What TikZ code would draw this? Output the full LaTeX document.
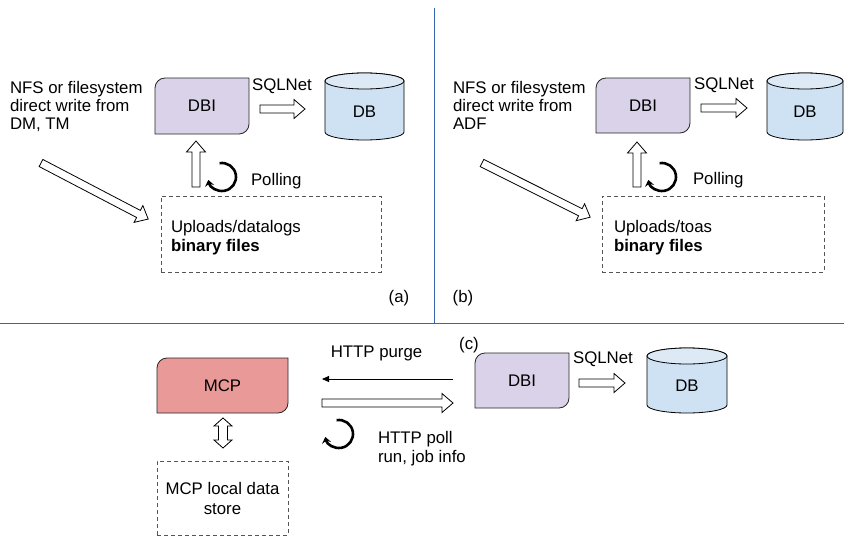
\documentclass[tikz,border=0pt]{standalone}
\usepackage{fontspec}
\setmainfont{Liberation Sans}
\usetikzlibrary{arrows.meta,backgrounds}
\definecolor{dbifill}{HTML}{D9D2E9}
\definecolor{dbbody}{HTML}{CFE2F3}
\definecolor{dbtop}{HTML}{DDEAF6}
\definecolor{mcpfill}{HTML}{EA9999}
\definecolor{divblue}{HTML}{3565AE}
\definecolor{dashgray}{HTML}{555555}
\newcommand\fsz{\fontsize{16.8}{18}\selectfont}
\tikzset{
  txt/.style={font=\fsz, inner sep=0pt, outer sep=0pt},
  shapebox/.style={draw=none, inner sep=0pt, outer sep=0pt, font=\fsz},
  dashbox/.style={draw=dashgray, dash pattern=on 4pt off 3pt, line width=0.8pt, inner sep=0pt, outer sep=0pt},
  divider/.style={draw=divblue, line width=1pt},
  circarr/.style={line width=2.6pt, -{Stealth[length=6pt,width=9pt]}},
  thinarr/.style={line width=0.9pt, -{Triangle[length=7pt,width=6pt]}},
  pics/blockarr/.style={code={\draw[fill=white, line width=0.8pt, line join=miter] (0,-4) -- (#1-11,-4) -- (#1-11,-9.5) -- (#1,0) -- (#1-11,9.5) -- (#1-11,4) -- (0,4) -- cycle;}},
  pics/dblarr/.style={code={\draw[fill=white, line width=0.8pt, line join=miter] (0,0) -- (8,-9) -- (8,-4.5) -- (#1-8,-4.5) -- (#1-8,-9) -- (#1,0) -- (#1-8,9) -- (#1-8,4.5) -- (8,4.5) -- (8,9) -- cycle;}}
}
\newcommand\dbishape[2]{%
  \begin{scope}[on background layer]
    \draw[fill=#2, line width=0.8pt, draw=black!85] (#1.south west) -- ([yshift=-10pt]#1.north west)
      arc[start angle=180, end angle=90, radius=10pt] -- (#1.north east)
      -- ([yshift=10pt]#1.south east) arc[start angle=0, end angle=-90, radius=10pt] -- cycle;
  \end{scope}}
\newcommand\cylshape[2]{%
  \begin{scope}[on background layer]
    \draw[fill=dbbody, line width=0.8pt] ([yshift=-8pt]#1.north west) -- ([yshift=8pt]#1.south west)
      arc[start angle=180, end angle=360, x radius=#2, y radius=8] -- ([yshift=-8pt]#1.north east)
      arc[start angle=0, end angle=180, x radius=#2, y radius=8] -- cycle;
    \draw[fill=dbtop, line width=0.8pt] ([yshift=-8pt]#1.north) ellipse[x radius=#2, y radius=8];
  \end{scope}}
\begin{document}
\begin{tikzpicture}[x=1pt,y=1pt]
\useasboundingbox (0,0) rectangle (844,-538);

% dividers
\coordinate (vtop) at (434,-8);
\coordinate (vbot) at (434,-323);
\coordinate (hl) at (0,-323);
\coordinate (hr) at (844,-323);
\draw[divider] (vtop) -- (vbot);
\draw[divider] (hl) -- (hr);

% ---------- panel (a)
\node[txt, anchor=north west, align=left] (nfsA) at (10,-81) {NFS or filesystem\\direct write from\\DM, TM};
\node[shapebox, minimum width=94, minimum height=56] (dbiA) at (202,-106) {DBI};
\dbishape{dbiA}{dbifill}
\node[txt, anchor=base] (sqlA) at (282,-90) {SQLNet};
\pic at (260,-109) {blockarr=45};
\node[shapebox, minimum width=79, minimum height=67] (dbA) at (364.5,-106.5) {};
\cylshape{dbA}{39.5}
\node[txt] (dbAt) at ([yshift=-5.5pt]dbA.center) {DB};
\pic[rotate=90] at (196,-187) {blockarr=46};
\draw[circarr] (222,-177) ++(100:14) arc[start angle=100, end angle=-168, radius=14];
\node[txt, anchor=base west] (pollA) at (251,-185) {Polling};
\node[dashbox, minimum width=220, minimum height=76] (upA) at (271,-234) {};
\node[txt, anchor=north west, align=left, font=\fontsize{16.8}{19}\selectfont] (upAt) at (171,-220) {Uploads/datalogs\\\textbf{binary files}};
\pic[rotate=-27.6] at (41,-163) {blockarr=121};
\node[txt] (labA) at (399,-298) {(a)};

% ---------- panel (b)
\node[txt, anchor=north west, align=left] (nfsB) at (453,-81) {NFS or filesystem\\direct write from\\ADF};
\node[shapebox, minimum width=94, minimum height=55] (dbiB) at (643,-105.5) {DBI};
\dbishape{dbiB}{dbifill}
\node[txt, anchor=base] (sqlB) at (724,-89) {SQLNet};
\pic at (701,-108) {blockarr=46};
\node[shapebox, minimum width=76, minimum height=67] (dbB) at (805,-106.5) {};
\cylshape{dbB}{38}
\node[txt] (dbBt) at ([yshift=-5.5pt]dbB.center) {DB};
\pic[rotate=90] at (637,-187) {blockarr=45};
\draw[circarr] (662,-177) ++(100:14) arc[start angle=100, end angle=-168, radius=14];
\node[txt, anchor=base west] (pollB) at (693,-184) {Polling};
\node[dashbox, minimum width=222, minimum height=76] (upB) at (713,-234) {};
\node[txt, anchor=north west, align=left, font=\fontsize{16.8}{19}\selectfont] (upBt) at (614,-220) {Uploads/toas\\\textbf{binary files}};
\pic[rotate=-26.6] at (482,-163) {blockarr=121};
\node[txt] (labB) at (463,-298) {(b)};

% ---------- panel (c)
\node[txt] (labC) at (469,-345) {(c)};
\node[shapebox, minimum width=131, minimum height=55] (mcp) at (222.5,-385.5) {MCP};
\dbishape{mcp}{mcpfill}
\pic[rotate=-90] at (223,-418) {dblarr=30};
\node[dashbox, minimum width=131, minimum height=74, align=center, font=\fontsize{16.8}{20}\selectfont] (store) at (222.5,-498) {MCP local data\\store};
\node[txt] (purge) at (376.5,-353) {HTTP purge};
\coordinate (pfrom) at (453,-379);
\coordinate (pto) at (322,-379);
\draw[thinarr] (pfrom) -- (pto);
\pic at (322,-403) {blockarr=131};
\draw[circarr] (339,-434) ++(100:14) arc[start angle=100, end angle=-168, radius=14];
\node[txt, anchor=north west, align=left, font=\fontsize{16.8}{19}\selectfont] (poll) at (378,-431) {HTTP poll\\run, job info};
\node[shapebox, minimum width=94, minimum height=55] (dbiC) at (522,-380.5) {DBI};
\dbishape{dbiC}{dbifill}
\node[txt, anchor=base] (sqlC) at (603,-363) {SQLNet};
\pic at (579,-383) {blockarr=46};
\node[shapebox, minimum width=80, minimum height=65] (dbC) at (687,-380.5) {};
\cylshape{dbC}{40}
\node[txt] (dbCt) at ([yshift=-5.5pt]dbC.center) {DB};
\end{tikzpicture}
\end{document}
